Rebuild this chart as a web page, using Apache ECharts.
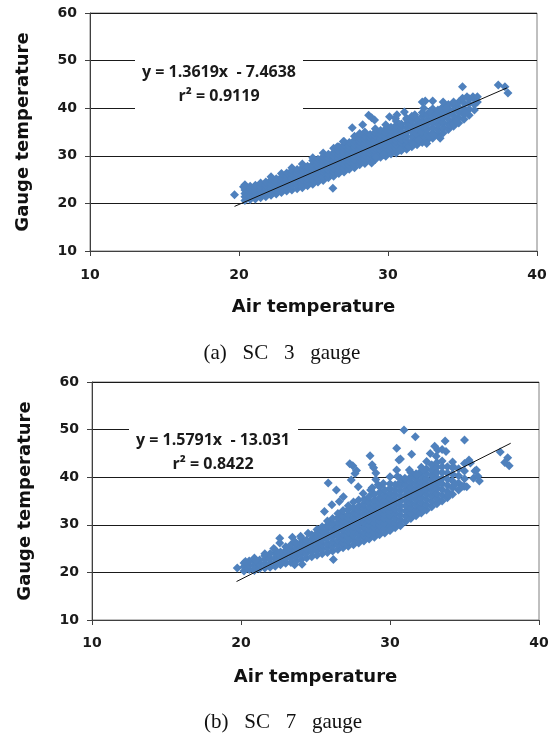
<!DOCTYPE html>
<html>
<head>
<meta charset="utf-8">
<script src="https://cdn.jsdelivr.net/npm/echarts@6/dist/echarts.min.js"></script>
<style>
html,body{margin:0;padding:0;background:#fff;}
#chart{width:557px;height:736px;}
</style>
</head>
<body>
<div id="chart"></div>
<script>
// ---------- data ----------
// columns: [air temperature, gauge temperature values ...]
const colsA = [
  [20.4, 20.6, 21.4, 22.1, 22.8],
  [20.75, 20.8, 21.5, 22.3, 23.0, 23.6],
  [21.1, 20.9, 21.7, 22.4, 23.2, 23.8],
  [21.45, 21.2, 22.0, 22.7, 23.5, 24.3],
  [21.8, 21.4, 22.2, 23.0, 23.8, 24.5],
  [22.15, 21.7, 22.5, 23.3, 24.1, 24.9, 25.6],
  [22.5, 22.0, 22.8, 23.6, 24.4, 25.2],
  [22.85, 22.3, 23.1, 23.9, 24.7, 25.5, 26.3],
  [23.2, 22.6, 23.4, 24.2, 25.0, 25.8, 26.4],
  [23.55, 22.8, 23.7, 24.5, 25.3, 26.1, 26.9, 27.5],
  [23.9, 23.1, 23.9, 24.7, 25.6, 26.4, 27.1],
  [24.25, 23.3, 24.1, 25.0, 25.8, 26.7, 27.5, 28.3],
  [24.6, 23.7, 24.5, 25.3, 26.2, 27.0, 27.8],
  [24.95, 24.0, 24.9, 25.7, 26.5, 27.4, 28.2, 29.0, 29.6],
  [25.3, 24.5, 25.2, 26.1, 26.9, 27.7, 28.6, 29.3],
  [25.65, 24.8, 25.7, 26.5, 27.3, 28.2, 29.0, 29.8, 30.6],
  [26.0, 25.4, 26.1, 27.0, 27.8, 28.6, 29.5, 30.3],
  [26.35, 25.7, 26.6, 27.4, 28.2, 29.1, 29.9, 30.7, 31.6],
  [26.7, 26.3, 27.0, 27.9, 28.7, 29.5, 30.3, 31.1, 31.9],
  [27.05, 26.6, 27.5, 28.3, 29.1, 30.0, 30.8, 31.6, 32.4, 33.0],
  [27.4, 27.2, 28.0, 28.8, 29.6, 30.4, 31.3, 32.1, 32.8],
  [27.75, 27.5, 28.4, 29.2, 30.1, 30.9, 31.7, 32.5, 33.3, 34.1],
  [28.1, 28.1, 28.9, 29.7, 30.5, 31.3, 32.1, 33.0, 33.7],
  [28.45, 28.4, 29.3, 30.1, 30.9, 31.8, 32.6, 33.4, 34.2, 35.0],
  [28.8, 28.9, 29.7, 30.5, 31.3, 32.1, 33.0, 33.8, 34.5],
  [29.15, 29.2, 30.1, 30.9, 31.7, 32.5, 33.4, 34.2, 35.0, 35.7],
  [29.5, 29.7, 30.4, 31.2, 32.1, 32.9, 33.7, 34.5, 35.3],
  [29.85, 29.9, 30.8, 31.6, 32.4, 33.2, 34.0, 34.9, 35.7, 36.5],
  [30.2, 30.4, 31.1, 31.9, 32.7, 33.6, 34.4, 35.2, 36.0],
  [30.55, 30.6, 31.5, 32.3, 33.1, 33.9, 34.7, 35.6, 36.4, 37.3],
  [30.9, 31.1, 31.8, 32.7, 33.5, 34.3, 35.1, 36.0, 36.7],
  [31.25, 31.4, 32.3, 33.2, 34.1, 35.0, 35.9, 36.8, 37.7],
  [31.6, 31.9, 32.9, 34.0, 35.1, 36.2, 37.3, 38.3],
  [31.95, 32.3, 33.4, 34.5, 35.6, 36.7, 37.7],
  [32.3, 32.8, 33.9, 35.0, 36.1, 37.2, 38.3, 39.1],
  [32.65, 33.3, 34.4, 35.5, 36.6, 37.7, 38.7],
  [33.0, 33.7, 34.8, 35.9, 37.0, 38.1, 39.2, 39.9],
  [33.35, 34.3, 35.4, 36.5, 37.6, 38.7, 39.6],
  [33.7, 34.8, 35.9, 37.0, 38.1, 39.2, 40.3],
  [34.05, 35.5, 36.6, 37.7, 38.8, 39.9, 40.8],
  [34.4, 36.2, 37.3, 38.4, 39.5, 40.6],
  [34.75, 36.9, 38.0, 39.1, 40.2, 41.3],
  [35.1, 37.7, 38.9, 40.0, 41.1],
  [35.45, 38.5, 39.8, 41.0, 42.0],
  [35.8, 39.6, 40.8, 41.9]
];
const extraA = [
  [19.7,21.8],[20.4,23.9],[20.3,23.5],[26.3,23.2],[26.6,31.9],[27.0,33.0],[27.6,35.9],
  [28.1,34.7],[28.3,36.5],[28.7,38.5],[28.9,38.0],[29.1,37.5],[28.9,28.5],[29.2,29.8],
  [29.7,30.2],[30.1,38.2],[30.5,37.9],[30.6,38.6],[31.1,39.2],[31.25,37.9],[31.8,38.6],
  [30.8,31.2],[31.4,31.9],[31.7,32.3],[32.1,33.3],[32.6,32.6],[32.8,34.0],[33.0,34.4],
  [33.5,33.7],[32.3,41.3],[32.4,40.0],[32.5,41.5],[32.8,39.3],[33.0,41.5],[33.5,39.6],
  [33.7,41.3],[33.9,40.0],[34.2,36.3],[34.4,36.5],[34.4,41.3],[34.6,37.2],[35.0,39.0],
  [35.2,39.0],[35.0,42.1],[35.0,44.5],[35.3,42.4],[35.7,42.4],[36.0,42.4],[36.0,41.3],
  [37.4,44.9],[37.85,44.5],[38.05,43.2]
];
const colsB = [
  [20.2, 20.3, 21.2, 22.0],
  [20.55, 20.6, 21.5, 22.4],
  [20.9, 20.4, 21.3, 22.2, 23.0],
  [21.25, 20.8, 21.7, 22.6],
  [21.6, 20.9, 21.8, 22.7, 23.5],
  [21.95, 21.1, 22.0, 22.9, 23.9],
  [22.3, 21.3, 22.2, 23.1, 24.0, 24.7],
  [22.65, 21.6, 22.5, 23.4, 24.3],
  [23.0, 21.9, 22.8, 23.7, 24.6, 25.4],
  [23.35, 22.1, 23.0, 24.0, 24.9, 25.8],
  [23.7, 22.4, 23.4, 24.3, 25.2, 26.1],
  [24.05, 22.7, 23.7, 24.6, 25.5, 26.4, 27.2],
  [24.4, 23.0, 24.0, 24.9, 25.8, 26.8],
  [24.75, 23.3, 24.3, 25.2, 26.1, 27.0, 27.9],
  [25.1, 23.6, 24.6, 25.5, 26.4, 27.4, 28.3, 29.0],
  [25.45, 23.9, 24.9, 25.8, 26.8, 27.7, 28.6, 29.6],
  [25.8, 24.2, 25.2, 26.1, 27.1, 28.0, 29.0, 29.9, 30.8],
  [26.15, 24.5, 25.5, 26.4, 27.4, 28.3, 29.3, 30.2, 31.3],
  [26.5, 24.8, 25.8, 26.7, 27.7, 28.7, 29.6, 30.6, 31.5, 32.4],
  [26.85, 25.2, 26.1, 27.1, 28.0, 29.0, 30.0, 30.9, 31.9, 33.0],
  [27.2, 25.5, 26.5, 27.4, 28.4, 29.3, 30.3, 31.3, 32.2, 33.2, 34.0],
  [27.55, 25.8, 26.8, 27.8, 28.7, 29.7, 30.7, 31.6, 32.6, 33.6, 34.8],
  [27.9, 26.2, 27.2, 28.1, 29.1, 30.1, 31.0, 32.0, 33.0, 33.9, 35.2],
  [28.25, 26.6, 27.6, 28.5, 29.5, 30.5, 31.4, 32.4, 33.4, 34.4, 35.3],
  [28.6, 27.0, 28.0, 28.9, 29.9, 30.9, 31.8, 32.8, 33.8, 34.8, 35.9],
  [28.95, 27.4, 28.4, 29.4, 30.3, 31.3, 32.3, 33.2, 34.2, 35.2, 36.4],
  [29.3, 27.9, 28.9, 29.8, 30.8, 31.8, 32.7, 33.7, 34.7, 35.7, 36.8],
  [29.65, 28.3, 29.3, 30.3, 31.3, 32.2, 33.2, 34.2, 35.2, 36.2, 37.3],
  [30.0, 28.8, 29.8, 30.8, 31.8, 32.8, 33.7, 34.7, 35.7, 36.7, 37.7, 38.6],
  [30.35, 29.4, 30.4, 31.4, 32.4, 33.3, 34.3, 35.3, 36.3, 37.3, 38.4],
  [30.7, 30.0, 31.0, 32.0, 33.0, 34.0, 35.0, 36.0, 37.0, 38.0, 39.0, 39.8],
  [31.05, 30.7, 31.8, 32.9, 34.0, 35.1, 36.2, 37.3, 38.4, 39.5],
  [31.4, 31.3, 32.4, 33.5, 34.6, 35.7, 36.8, 37.9, 39.0, 40.1, 41.0],
  [31.75, 31.9, 33.0, 34.1, 35.2, 36.3, 37.4, 38.5, 39.6, 40.7],
  [32.1, 32.5, 33.6, 34.7, 35.8, 36.9, 38.0, 39.1, 40.2, 41.3, 42.1],
  [32.45, 33.1, 34.2, 35.3, 36.4, 37.5, 38.6, 39.7, 40.8, 41.8],
  [32.8, 33.8, 34.9, 36.0, 37.1, 38.2, 39.3, 40.4, 41.5, 42.6],
  [33.15, 34.4, 35.5, 36.6, 37.7, 38.8, 39.9, 41.0, 42.1, 43.1],
  [33.5, 35.0, 36.2, 37.4, 38.6, 39.8, 41.0, 42.2, 43.4],
  [33.85, 35.7, 37.0, 38.3, 39.6, 40.9, 42.2],
  [34.2, 36.4, 37.8, 39.2, 40.6, 42.0, 43.2],
  [34.6, 37.3, 38.8, 40.3, 41.8],
  [35.0, 38.1, 39.7, 41.3, 42.9]
];
const extraB = [
  [19.75,20.9],[20.3,22.3],[21.0,22.5],[21.6,23.9],[22.6,27.2],[22.6,26.2],[23.45,27.4],
  [23.6,26.5],[23.6,21.6],[24.1,21.7],[26.2,22.7],[25.6,32.8],[26.1,34.2],[26.6,34.9],
  [25.85,38.8],[26.4,37.3],[26.87,35.9],[27.3,42.8],[27.5,42.4],[27.65,40.8],[27.75,41.4],
  [27.4,39.4],[27.87,38.0],[28.2,36.6],[28.66,44.5],[28.8,42.6],[28.9,42.0],[28.7,37.3],
  [28.8,37.8],[29.05,40.9],[29.05,39.5],[29.2,38.4],[29.3,38.0],[29.55,38.7],[30.0,40.1],
  [30.45,41.5],[30.5,40.2],[30.6,43.6],[30.7,43.8],[30.45,46.1],[30.94,49.9],[31.0,39.8],
  [31.3,41.5],[31.45,44.8],[31.7,48.5],[31.8,40.5],[32.24,41.5],[32.46,43.3],[32.7,45.0],
  [33.0,46.5],[33.1,44.4],[33.2,45.7],[33.5,45.8],[33.7,47.6],[33.76,45.4],[34.25,42.2],
  [33.35,38.8],[34.35,38.4],[33.9,36.3],[35.15,38.0],[34.9,38.1],[35.0,47.8],[35.3,43.6],
  [35.4,43.0],[35.7,41.3],[35.8,41.5],[35.6,39.8],[36.0,39.2],[35.9,40.2],[37.4,45.3],
  [37.9,44.1],[38.0,42.4],[37.7,43.1],[30.0,28.9],[30.7,29.8],[24.5,28.2],[24.0,27.6],
  [22.2,25.0]
];
const trendA = [[19.7, 19.37], [38.0, 44.29]];
const trendB = [[19.7, 18.08], [38.1, 47.13]];
const eqA = ['y = 1.3619x  - 7.4638', 'r\u00b2 = 0.9119'];
const eqB = ['y = 1.5791x  - 13.031', 'r\u00b2 = 0.8422'];
const captions = ['(a)   SC   3   gauge', '(b)   SC   7   gauge'];
const xName = 'Air temperature';
const yName = 'Gauge temperature';

// ---------- build ----------
function flatten(cols, extra) {
  const out = [];
  cols.forEach(c => { for (let i = 1; i < c.length; i++) out.push([c[0], c[i]]); });
  return out.concat(extra);
}
const ptsA = flatten(colsA, extraA);
const ptsB = flatten(colsB, extraB);

const BLUE = '#4F81BD';
const tickFont = {fontFamily: 'DejaVu Sans', fontWeight: 'bold', fontSize: 14, color: '#1a1a1a'};
const nameFont = {fontFamily: 'DejaVu Sans', fontWeight: 'bold', fontSize: 18, color: '#111'};

function xAx(idx, margin, gap) {
  return {
    gridIndex: idx, type: 'value', min: 10, max: 40, interval: 10,
    name: xName, nameLocation: 'middle', nameGap: gap, nameTextStyle: nameFont,
    axisLine: {show: true, onZero: false, lineStyle: {color: '#404040', width: 1}},
    axisTick: {show: true, length: 5, lineStyle: {color: '#404040', width: 1}},
    axisLabel: Object.assign({margin: margin}, tickFont),
    splitLine: {show: false}
  };
}
function yAx(idx, gap) {
  return {
    gridIndex: idx, type: 'value', min: 10, max: 60, interval: 10,
    name: yName, nameLocation: 'middle', nameGap: gap, nameTextStyle: nameFont,
    axisLine: {show: true, onZero: false, lineStyle: {color: '#404040', width: 1}},
    axisTick: {show: true, length: 5, lineStyle: {color: '#404040', width: 1}},
    axisLabel: Object.assign({margin: 13}, tickFont),
    splitLine: {show: true, lineStyle: {color: '#1a1a1a', width: 1}}
  };
}
function scatter(idx, data) {
  return {
    type: 'scatter', xAxisIndex: idx, yAxisIndex: idx, data: data,
    symbol: 'diamond', symbolSize: 9, itemStyle: {color: BLUE, opacity: 1},
    silent: true, z: 2
  };
}
function trend(idx, data) {
  return {
    type: 'line', xAxisIndex: idx, yAxisIndex: idx, data: data,
    symbol: 'none', showSymbol: false, silent: true,
    lineStyle: {color: '#111', width: 1}, z: 5
  };
}
function eqGraphic(rect, cx, y1, y2, lines) {
  const f = 'bold 16px "Open Sans"';
  return [
    {type: 'rect', shape: rect, style: {fill: '#fff'}, z: 50, silent: true},
    {type: 'text', x: cx, y: y1, z: 51, silent: true,
     style: {text: lines[0], font: f, fill: '#1a1a1a', align: 'center', verticalAlign: 'middle', textAlign: 'center', textVerticalAlign: 'middle'}},
    {type: 'text', x: cx, y: y2, z: 51, silent: true,
     style: {text: lines[1], font: f, fill: '#1a1a1a', align: 'center', verticalAlign: 'middle', textAlign: 'center', textVerticalAlign: 'middle'}}
  ];
}
function caption(cx, cy, text) {
  return {type: 'text', x: cx, y: cy, z: 51, silent: true,
    style: {text: text, font: '21px "Liberation Serif"', fill: '#111', align: 'center', verticalAlign: 'middle', textAlign: 'center', textVerticalAlign: 'middle'}};
}

const chart = echarts.init(document.getElementById('chart'));
chart.setOption({
  animation: false,
  backgroundColor: '#fff',
  grid: [
    {left: 90, top: 13, width: 447, height: 238, show: true, borderColor: '#808080', borderWidth: 1, backgroundColor: 'transparent'},
    {left: 92, top: 382, width: 447, height: 238, show: true, borderColor: '#808080', borderWidth: 1, backgroundColor: 'transparent'}
  ],
  xAxis: [xAx(0, 17, 47), xAx(1, 16, 48)],
  yAxis: [yAx(0, 58), yAx(1, 58)],
  series: [scatter(0, ptsA), trend(0, trendA), scatter(1, ptsB), trend(1, trendB)],
  graphic: [].concat(
    eqGraphic({x: 135, y: 54, width: 168, height: 58}, 219, 72, 96, eqA),
    eqGraphic({x: 129, y: 424, width: 169, height: 50}, 213, 440, 464, eqB),
    [caption(282, 353, captions[0]), caption(283, 722, captions[1])]
  )
});
</script>
</body>
</html>
